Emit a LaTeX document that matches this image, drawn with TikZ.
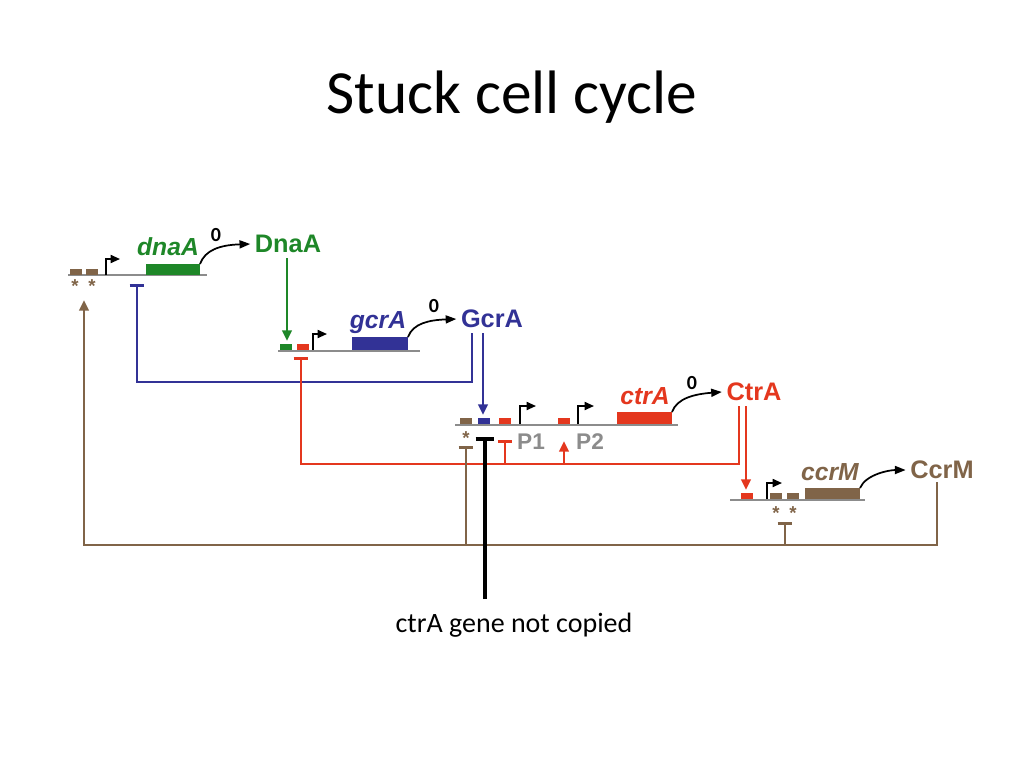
\documentclass[tikz,border=0pt]{standalone}
\usepackage{fontspec}
\setmainfont{Carlito}
\newfontfamily\arl{Liberation Sans}
\usetikzlibrary{arrows.meta}
\definecolor{gr}{RGB}{30,135,40}
\definecolor{bl}{RGB}{50,50,150}
\definecolor{rd}{RGB}{228,55,30}
\definecolor{br}{RGB}{128,100,72}
\definecolor{gy}{RGB}{140,140,140}
\begin{document}
\begin{tikzpicture}[x=0.75pt,y=-0.75pt,
  dna/.style={gy,line width=1.8pt},
  box/.style={fill=#1,draw=none},
  prom/.style={black,line width=1.3pt,-{Triangle[length=7pt,width=6pt]}},
  prod/.style={black,line width=1.3pt,-{Triangle[length=8pt,width=6pt]}},
  act/.style={line width=2pt,-{Triangle[length=8pt,width=7pt]}},
  rep/.style={line width=2pt,-{Bar[width=11pt]}},
  gene/.style={font=\arl\bfseries\itshape\fontsize{18.5}{18}\selectfont},
  prot/.style={font=\arl\bfseries\fontsize{19}{19}\selectfont},
  zero/.style={font=\bfseries\fontsize{15}{15}\selectfont},
  ast/.style={br,font=\arl\bfseries\fontsize{14}{14}\selectfont},
  pl/.style={gy,font=\arl\bfseries\fontsize{17}{17}\selectfont}]
\useasboundingbox (0,0) rectangle (1024,768);
\node (title) at (512,97) {\fontsize{46}{50}\selectfont Stuck cell cycle};
% dnaA
\draw[dna] (68,275) -- (207,275);
\fill[box=br] (70,269) rectangle (82,275); \fill[box=br] (86,269) rectangle (98,275);
\node[ast] (a1) at (75,286) {*}; \node[ast] (a2) at (92,286) {*};
\draw[prom] (106,275) -- (106,259) -- (120,259);
\fill[box=gr] (146,264) rectangle (200,275);
\node[gene,gr] (dnaA) at (168,247) {dnaA};
\node[prot,gr] (DnaA) at (288,244) {DnaA};
\node[zero] (z1) at (216,235) {0};
\draw[prod] (200,264) .. controls (205,250) and (220,245) .. (DnaA.west);
% gcrA
\draw[dna] (278,351) -- (420,351);
\fill[box=gr] (280,344) rectangle (292,350); \fill[box=rd] (297,344) rectangle (309,350);
\draw[prom] (313,350) -- (313,334) -- (327,334);
\fill[box=bl] (352,337) rectangle (408,350);
\node[gene,bl] (gcrA) at (378,323) {gcrA};
\node[prot,bl] (GcrA) at (492,319) {GcrA};
\node[zero] (z2) at (434,306) {0};
\draw[prod] (408,337) .. controls (413,323) and (430,320) .. (GcrA.west);
\draw[act,gr] (287,258) -- (287,341);
% ctrA
\draw[dna] (455,425) -- (678,425);
\fill[box=br] (460,418) rectangle (472,424); \fill[box=bl] (478,418) rectangle (490,424);
\fill[box=rd] (499,418) rectangle (511,424);
\draw[prom] (520,424) -- (520,406) -- (536,406);
\fill[box=rd] (558,418) rectangle (570,424);
\draw[prom] (578,424) -- (578,406) -- (594,406);
\fill[box=rd] (617,412) rectangle (672,424);
\node[gene,rd] (ctrA) at (645,396) {ctrA};
\node[prot,rd] (CtrA) at (754,392) {CtrA};
\node[zero] (z3) at (692,383) {0};
\draw[prod] (672,412) .. controls (677,398) and (695,394) .. (CtrA.west);
\node[ast] (a3) at (466,438) {*};
\node[pl] (P1) at (531,442) {P1};
\node[pl] (P2) at (590,442) {P2};
% ccrM
\draw[dna] (730,500) -- (865,500);
\fill[box=rd] (741,493) rectangle (753,499);
\draw[prom] (767,499) -- (767,483) -- (782,483);
\fill[box=br] (770,493) rectangle (782,499); \fill[box=br] (787,493) rectangle (799,499);
\fill[box=br] (805,488) rectangle (860,499);
\node[gene,br] (ccrM) at (830,472) {ccrM};
\node[prot,br] (CcrM) at (942,470) {CcrM};
\draw[prod] (860,488) .. controls (866,474) and (890,470) .. (CcrM.west);
\node[ast] (a4) at (776,513) {*}; \node[ast] (a5) at (793,513) {*};
% regulation
\draw[rep,bl] (472,333) -- (472,382) -- (137,382) -- (137,284);
\draw[act,bl] (483,333) -- (483,415);
\draw[rep,rd] (739,406) -- (739,464) -- (301,464) -- (301,357);
\draw[rep,rd] (505,464) -- (505,440);
\draw[act,rd] (564,464) -- (564,441);
\draw[act,rd] (746,406) -- (746,490);
\draw[act,br] (937,482) -- (937,545) -- (84,545) -- (84,300);
\draw[rep,br] (466,545) -- (466,446);
\draw[rep,br] (785,545) -- (785,522);
% annotation
\draw[line width=2.8pt,-{Bar[width=14pt,line width=2.8pt]}] (485,599) -- (485,437);
\node (note) at (514,625) {\fontsize{21}{24}\selectfont ctrA gene not copied};
\end{tikzpicture}
\end{document}
